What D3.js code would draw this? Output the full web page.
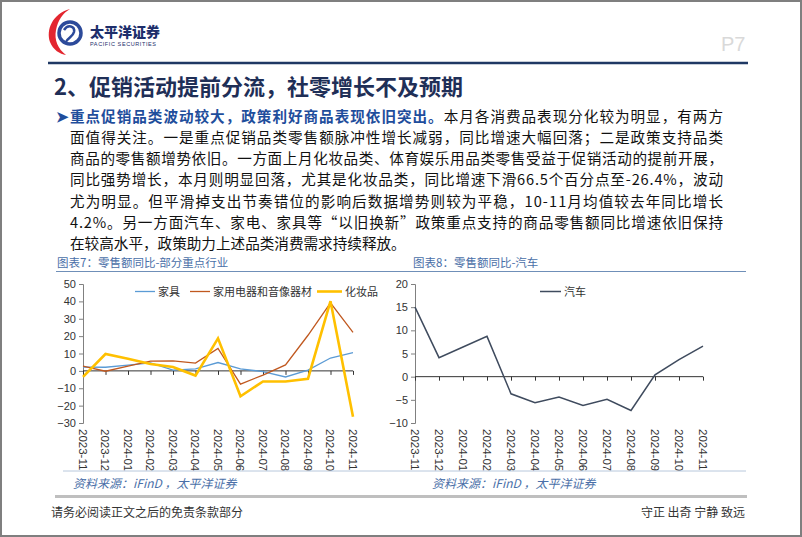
<!DOCTYPE html>
<html><head><meta charset="utf-8">
<script src="https://cdn.jsdelivr.net/npm/d3@7/dist/d3.min.js"></script>
<style>
html,body{margin:0;padding:0;background:#fff;}
svg{display:block;}
text{font-family:"Noto Sans CJK SC","Noto Sans",sans-serif;}
.num{font-family:"Liberation Sans",Arial,sans-serif;}
</style></head>
<body>
<svg id="c" width="802" height="537"></svg>
<script>
// ---- data ----
const months = ["2023-11","2023-12","2024-01","2024-02","2024-03","2024-04","2024-05","2024-06","2024-07","2024-08","2024-09","2024-10","2024-11"];
const furniture = [2.2, 2.1, 3.3, 4.6, 0.4, 1.2, 4.8, 1.1, -0.4, -3.5, 0.4, 7.4, 10.5];
const appliances = [2.7, -0.2, 2.8, 5.6, 5.8, 4.5, 12.9, -7.6, -2.4, 3.4, 20.5, 39.2, 22.2];
const cosmetics = [-3.5, 9.7, 7.0, 4.0, 2.2, -2.7, 18.7, -14.6, -6.1, -6.1, -4.5, 40.1, -26.4];
const autos = [15.0, 4.1, 6.4, 8.7, -3.7, -5.6, -4.4, -6.2, -4.9, -7.3, 0.4, 3.7, 6.6];
const leftTicks = [50, 40, 30, 20, 10, 0, -10, -20, -30];
const rightTicks = [20, 15, 10, 5, 0, -5, -10];
const leftSeries = [
  {name:"家具", values: furniture, color:"#5b9bd5", width:1.3},
  {name:"家用电器和音像器材", values: appliances, color:"#c0581f", width:1.3},
  {name:"化妆品", values: cosmetics, color:"#ffc000", width:2.6}
];
const rightSeries = [{name:"汽车", values: autos, color:"#3f4b5e", width:1.5}];
const bodyLines = [
  "面值得关注。一是重点促销品类零售额脉冲性增长减弱，同比增速大幅回落；二是政策支持品类",
  "商品的零售额增势依旧。一方面上月化妆品类、体育娱乐用品类零售受益于促销活动的提前开展，",
  "同比强势增长，本月则明显回落，尤其是化妆品类，同比增速下滑66.5个百分点至-26.4%，波动",
  "尤为明显。但平滑掉支出节奏错位的影响后数据增势则较为平稳，10-11月均值较去年同比增长",
  "4.2%。另一方面汽车、家电、家具等“以旧换新”政策重点支持的商品零售额同比增速依旧保持",
  "在较高水平，政策助力上述品类消费需求持续释放。"
];

const svg = d3.select("#c");
// page frame
svg.append("rect").attr("x",1).attr("y",1).attr("width",800).attr("height",535)
  .attr("fill","#fff").attr("stroke","#7f7f7f").attr("stroke-width",2);

// logo
const lg = svg.append("g");
lg.append("path").attr("d","M70,9 C52,14 46,30 50,42 C53,50 60,54 66,55 C58,49 54,40 56,30 C58,20 63,13 70,9 Z").attr("fill","#e3262f");
lg.append("circle").attr("cx",70).attr("cy",33).attr("r",11).attr("fill","none").attr("stroke","#2c4a9a").attr("stroke-width",3.5);
lg.append("path").attr("d","M64,30 C68,24 75,26 74,32 C73,37 67,38 66,42").attr("fill","none").attr("stroke","#2c4a9a").attr("stroke-width",2.5);
lg.append("text").attr("x",90).attr("y",37).attr("font-size",14).attr("font-weight",900).attr("fill","#1d2e6b").text("太平洋证券");
lg.append("text").attr("x",90).attr("y",46).attr("font-size",5.5).attr("fill","#1d2e6b").attr("class","num").attr("letter-spacing",0.6).text("PACIFIC SECURITIES");
svg.append("text").attr("x",721).attr("y",51).attr("font-size",20).attr("fill","#d9d9d9").attr("class","num").text("P7");

// header rule
svg.append("line").attr("x1",48).attr("x2",748).attr("y1",63).attr("y2",63).attr("stroke","#1f3864").attr("stroke-width",2.5);
// title
svg.append("text").attr("x",54).attr("y",95).attr("font-size",22).attr("font-weight","bold").attr("fill","#1f2f57").text("2、促销活动提前分流，社零增长不及预期");

// paragraph
const fs = 14.6, lh = 21.3, y0 = 121.5;
const p1 = svg.append("text").attr("x",56).attr("y",y0).attr("font-size",fs).attr("textLength",667).attr("lengthAdjust","spacing");
p1.append("tspan").attr("fill","#1f4e9c").attr("font-weight","bold").text("➤重点促销品类波动较大，政策利好商品表现依旧突出。");
p1.append("tspan").attr("fill","#111").text("本月各消费品表现分化较为明显，有两方");
bodyLines.forEach((t,i)=>{
  const tx = svg.append("text").attr("x",70).attr("y",y0+lh*(i+1)).attr("font-size",fs).attr("fill","#111").text(t);
  if(i<bodyLines.length-1) tx.attr("textLength",653).attr("lengthAdjust","spacing");
});

// chart headers
function header(x1,x2,tx,label){
  svg.append("text").attr("x",tx).attr("y",267).attr("font-size",11.5).attr("fill","#4a6fa8").text(label);
  svg.append("line").attr("x1",x1).attr("x2",x2).attr("y1",271.5).attr("y2",271.5).attr("stroke","#6f8fb8").attr("stroke-width",1);
}
header(56,400,57,"图表7：零售额同比-部分重点行业");
header(400,746,413,"图表8：零售额同比-汽车");

function chart(xr, ydom, ticks, series, legendPos){
  const x = d3.scalePoint().domain(months).range(xr);
  const y = d3.scaleLinear().domain(ydom).range([423,284]);
  const g = svg.append("g");
  const ya = d3.axisLeft(y).tickValues(ticks).tickSize(4).tickPadding(3).tickFormat(d3.format("d"));
  g.append("g").attr("transform",`translate(${xr[0]},0)`).call(ya)
    .call(s=>{s.select(".domain").attr("stroke","#808080");
      s.selectAll(".tick line").attr("stroke","#808080");
      s.selectAll("text").attr("class","num").attr("font-size",11).attr("fill","#333").attr("font-family","Liberation Sans, Arial, sans-serif");});
  const xa = d3.axisBottom(x).tickSize(4).tickFormat("");
  g.append("g").attr("transform",`translate(0,${y(0)})`).call(xa)
    .call(s=>{s.select(".domain").attr("stroke","#333").attr("d",`M${xr[0]},0H${xr[1]}`);
      s.selectAll(".tick line").attr("stroke","#333");});
  g.selectAll(".xl").data(months).join("text").attr("class","num")
    .attr("font-family","Liberation Sans, Arial, sans-serif")
    .attr("font-size",11.5).attr("fill","#333")
    .attr("transform",d=>`translate(${x(d)},429) rotate(90)`)
    .attr("dy","0.35em").text(d=>d);
  const line = d3.line().x((d,i)=>x(months[i])).y(d=>y(d));
  series.forEach(s=>{
    g.append("path").datum(s.values).attr("d",line).attr("fill","none")
      .attr("stroke",s.color).attr("stroke-width",s.width).attr("stroke-linejoin","miter");
  });
  legendPos.forEach((lp,i)=>{
    const s = series[i];
    g.append("line").attr("x1",lp[0]).attr("x2",lp[1]).attr("y1",291.5).attr("y2",291.5)
      .attr("stroke",s.color).attr("stroke-width",s.width);
    g.append("text").attr("x",lp[1]+3).attr("y",295.5).attr("font-size",11).attr("fill","#333").text(s.name);
  });
}
chart([83,353],[-30,50],leftTicks,leftSeries,[[135,155],[190,210],[317,342]]);
chart([415,703],[-10,20],rightTicks,rightSeries,[[540,561]]);

// source lines
svg.append("line").attr("x1",63).attr("x2",746).attr("y1",471).attr("y2",471).attr("stroke","#b8c8dc").attr("stroke-width",1);
svg.append("text").attr("x",73).attr("y",488).attr("font-size",12).attr("font-style","italic").attr("fill","#4a6fa8").text("资料来源：iFinD ，太平洋证券");
svg.append("text").attr("x",432).attr("y",488).attr("font-size",12).attr("font-style","italic").attr("fill","#4a6fa8").text("资料来源：iFinD ，太平洋证券");
svg.append("line").attr("x1",55).attr("x2",747).attr("y1",496.5).attr("y2",496.5).attr("stroke","#bfbfbf").attr("stroke-width",3);
// footer
svg.append("text").attr("x",51).attr("y",517).attr("font-size",12).attr("fill","#333").text("请务必阅读正文之后的免责条款部分");
svg.append("text").attr("x",745).attr("y",517).attr("text-anchor","end").attr("font-size",12).attr("fill","#333").text("守正 出奇 宁静 致远");
</script>
</body></html>
